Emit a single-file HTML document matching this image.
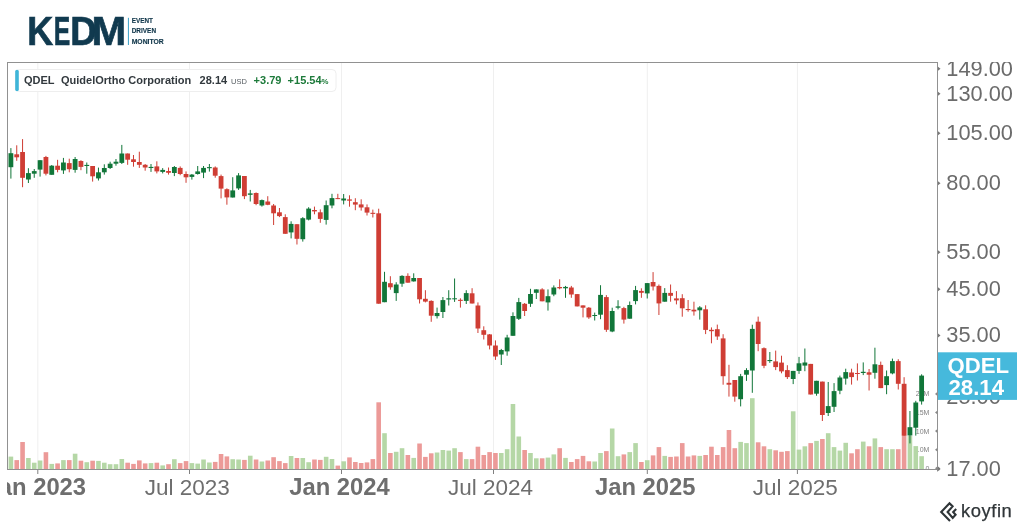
<!DOCTYPE html>
<html><head><meta charset="utf-8"><title>QDEL - KEDM</title>
<style>
html,body{margin:0;padding:0;background:#fff;}
body{width:1024px;height:529px;overflow:hidden;position:relative;font-family:"Liberation Sans",Arial,sans-serif;}
svg{position:absolute;left:0;top:0;}
.yl{font-family:"Liberation Sans",sans-serif;font-size:21.8px;fill:#6b6b6b;}
.vl{font-family:"Liberation Sans",sans-serif;font-size:7px;fill:#828282;text-anchor:end;}
.xl{font-family:"Liberation Sans",sans-serif;font-size:22.5px;fill:#6e6e6e;text-anchor:middle;}
.xl.b{font-weight:bold;font-size:23.8px;}
</style></head>
<body>
<svg width="1024" height="529" viewBox="0 0 1024 529">
<g font-family="Liberation Sans, sans-serif" font-weight="bold" fill="#113a4f" font-size="40.2" stroke="#113a4f" stroke-width="0.7">
<text transform="translate(27.2 44.9) scale(0.895 1)">K</text>
<text transform="translate(53.8 44.9) scale(0.615 1)">E</text>
<text transform="translate(70.3 44.9) scale(0.91 1)">D</text>
<text transform="translate(91.5 44.9) scale(1.035 1)">M</text>
</g>
<rect x="127.9" y="17.8" width="1.1" height="27.2" fill="#4aa9cc"/>
<g font-family="Liberation Sans, sans-serif" font-weight="bold" fill="#0f3549" font-size="7.7" stroke="#0f3549" stroke-width="0.15">
<text x="131.7" y="23.3" textLength="21.2" lengthAdjust="spacingAndGlyphs">EVENT</text>
<text x="131.7" y="33.0" textLength="24.4" lengthAdjust="spacingAndGlyphs">DRIVEN</text>
<text x="131.7" y="43.5" textLength="32" lengthAdjust="spacingAndGlyphs">MONITOR</text>
</g>
<defs><clipPath id="cp"><rect x="7.5" y="62.5" width="930" height="406.5"/></clipPath>
<clipPath id="cpy"><rect x="937" y="62" width="87" height="467"/></clipPath><clipPath id="cpx"><rect x="7" y="470" width="1017" height="40"/></clipPath></defs>
<g clip-path="url(#cp)">
<line x1="37.8" y1="62" x2="37.8" y2="469" stroke="#efefef" stroke-width="1"/><line x1="189.5" y1="62" x2="189.5" y2="469" stroke="#efefef" stroke-width="1"/><line x1="341.5" y1="62" x2="341.5" y2="469" stroke="#efefef" stroke-width="1"/><line x1="493.5" y1="62" x2="493.5" y2="469" stroke="#efefef" stroke-width="1"/><line x1="647.3" y1="62" x2="647.3" y2="469" stroke="#efefef" stroke-width="1"/><line x1="797.4" y1="62" x2="797.4" y2="469" stroke="#efefef" stroke-width="1"/>
<text x="929.4" y="396.4" class="vl">20M</text><text x="929.4" y="415.0" class="vl">15M</text><text x="929.4" y="433.6" class="vl">10M</text><text x="929.4" y="452.2" class="vl">5.0M</text><text x="929.4" y="470.8" class="vl">0</text>
<rect x="2.75" y="464.8" width="4.6" height="4.2" fill="#ec9a98"/><rect x="8.59" y="456.6" width="4.6" height="12.4" fill="#b5d7a6"/><rect x="14.43" y="460.1" width="4.6" height="8.9" fill="#ec9a98"/><rect x="20.26" y="442.0" width="4.6" height="27.0" fill="#ec9a98"/><rect x="26.10" y="458.0" width="4.6" height="11.0" fill="#b5d7a6"/><rect x="31.94" y="462.7" width="4.6" height="6.3" fill="#b5d7a6"/><rect x="37.78" y="460.5" width="4.6" height="8.5" fill="#b5d7a6"/><rect x="43.62" y="452.2" width="4.6" height="16.8" fill="#ec9a98"/><rect x="49.45" y="463.9" width="4.6" height="5.1" fill="#b5d7a6"/><rect x="55.29" y="463.4" width="4.6" height="5.6" fill="#ec9a98"/><rect x="61.13" y="460.1" width="4.6" height="8.9" fill="#b5d7a6"/><rect x="66.97" y="460.1" width="4.6" height="8.9" fill="#ec9a98"/><rect x="72.81" y="453.7" width="4.6" height="15.3" fill="#b5d7a6"/><rect x="78.64" y="460.7" width="4.6" height="8.3" fill="#ec9a98"/><rect x="84.48" y="462.2" width="4.6" height="6.8" fill="#b5d7a6"/><rect x="90.32" y="460.7" width="4.6" height="8.3" fill="#ec9a98"/><rect x="96.16" y="460.9" width="4.6" height="8.1" fill="#b5d7a6"/><rect x="102.00" y="462.7" width="4.6" height="6.3" fill="#b5d7a6"/><rect x="107.83" y="464.2" width="4.6" height="4.8" fill="#b5d7a6"/><rect x="113.67" y="464.2" width="4.6" height="4.8" fill="#b5d7a6"/><rect x="119.51" y="459.0" width="4.6" height="10.0" fill="#b5d7a6"/><rect x="125.35" y="462.7" width="4.6" height="6.3" fill="#ec9a98"/><rect x="131.19" y="463.9" width="4.6" height="5.1" fill="#ec9a98"/><rect x="137.02" y="460.4" width="4.6" height="8.6" fill="#ec9a98"/><rect x="142.86" y="463.4" width="4.6" height="5.6" fill="#ec9a98"/><rect x="148.70" y="463.1" width="4.6" height="5.9" fill="#b5d7a6"/><rect x="154.54" y="462.7" width="4.6" height="6.3" fill="#ec9a98"/><rect x="160.38" y="465.4" width="4.6" height="3.6" fill="#b5d7a6"/><rect x="166.21" y="464.2" width="4.6" height="4.8" fill="#ec9a98"/><rect x="172.05" y="459.2" width="4.6" height="9.8" fill="#b5d7a6"/><rect x="177.89" y="463.1" width="4.6" height="5.9" fill="#ec9a98"/><rect x="183.73" y="461.1" width="4.6" height="7.9" fill="#ec9a98"/><rect x="189.57" y="463.1" width="4.6" height="5.9" fill="#b5d7a6"/><rect x="195.40" y="463.6" width="4.6" height="5.4" fill="#b5d7a6"/><rect x="201.24" y="459.5" width="4.6" height="9.5" fill="#b5d7a6"/><rect x="207.08" y="462.5" width="4.6" height="6.5" fill="#b5d7a6"/><rect x="212.92" y="461.9" width="4.6" height="7.1" fill="#ec9a98"/><rect x="218.76" y="454.0" width="4.6" height="15.0" fill="#ec9a98"/><rect x="224.59" y="456.4" width="4.6" height="12.6" fill="#ec9a98"/><rect x="230.43" y="459.2" width="4.6" height="9.8" fill="#b5d7a6"/><rect x="236.27" y="459.5" width="4.6" height="9.5" fill="#b5d7a6"/><rect x="242.11" y="459.9" width="4.6" height="9.1" fill="#ec9a98"/><rect x="247.95" y="455.7" width="4.6" height="13.3" fill="#b5d7a6"/><rect x="253.78" y="459.5" width="4.6" height="9.5" fill="#ec9a98"/><rect x="259.62" y="461.5" width="4.6" height="7.5" fill="#b5d7a6"/><rect x="265.46" y="460.5" width="4.6" height="8.5" fill="#ec9a98"/><rect x="271.30" y="457.2" width="4.6" height="11.8" fill="#ec9a98"/><rect x="277.14" y="461.1" width="4.6" height="7.9" fill="#ec9a98"/><rect x="282.97" y="463.1" width="4.6" height="5.9" fill="#ec9a98"/><rect x="288.81" y="456.0" width="4.6" height="13.0" fill="#b5d7a6"/><rect x="294.65" y="458.0" width="4.6" height="11.0" fill="#ec9a98"/><rect x="300.49" y="458.0" width="4.6" height="11.0" fill="#b5d7a6"/><rect x="306.33" y="462.2" width="4.6" height="6.8" fill="#b5d7a6"/><rect x="312.16" y="459.5" width="4.6" height="9.5" fill="#ec9a98"/><rect x="318.00" y="459.9" width="4.6" height="9.1" fill="#ec9a98"/><rect x="323.84" y="456.8" width="4.6" height="12.2" fill="#b5d7a6"/><rect x="329.68" y="459.0" width="4.6" height="10.0" fill="#b5d7a6"/><rect x="335.52" y="465.6" width="4.6" height="3.4" fill="#ec9a98"/><rect x="341.35" y="461.3" width="4.6" height="7.7" fill="#b5d7a6"/><rect x="347.19" y="457.4" width="4.6" height="11.6" fill="#ec9a98"/><rect x="353.03" y="462.0" width="4.6" height="7.0" fill="#ec9a98"/><rect x="358.87" y="463.0" width="4.6" height="6.0" fill="#ec9a98"/><rect x="364.71" y="462.4" width="4.6" height="6.6" fill="#ec9a98"/><rect x="370.54" y="459.1" width="4.6" height="9.9" fill="#ec9a98"/><rect x="376.38" y="402.3" width="4.6" height="66.7" fill="#ec9a98"/><rect x="382.22" y="433.2" width="4.6" height="35.8" fill="#b5d7a6"/><rect x="388.06" y="453.0" width="4.6" height="16.0" fill="#ec9a98"/><rect x="393.90" y="451.8" width="4.6" height="17.2" fill="#b5d7a6"/><rect x="399.73" y="448.2" width="4.6" height="20.8" fill="#b5d7a6"/><rect x="405.57" y="455.0" width="4.6" height="14.0" fill="#ec9a98"/><rect x="411.41" y="457.9" width="4.6" height="11.1" fill="#b5d7a6"/><rect x="417.25" y="443.5" width="4.6" height="25.5" fill="#ec9a98"/><rect x="423.09" y="456.9" width="4.6" height="12.1" fill="#ec9a98"/><rect x="428.92" y="453.3" width="4.6" height="15.7" fill="#ec9a98"/><rect x="434.76" y="452.5" width="4.6" height="16.5" fill="#b5d7a6"/><rect x="440.60" y="450.0" width="4.6" height="19.0" fill="#b5d7a6"/><rect x="446.44" y="450.6" width="4.6" height="18.4" fill="#b5d7a6"/><rect x="452.28" y="448.2" width="4.6" height="20.8" fill="#b5d7a6"/><rect x="458.11" y="452.1" width="4.6" height="16.9" fill="#ec9a98"/><rect x="463.95" y="459.1" width="4.6" height="9.9" fill="#b5d7a6"/><rect x="469.79" y="459.1" width="4.6" height="9.9" fill="#ec9a98"/><rect x="475.63" y="446.7" width="4.6" height="22.3" fill="#ec9a98"/><rect x="481.47" y="455.0" width="4.6" height="14.0" fill="#ec9a98"/><rect x="487.30" y="452.1" width="4.6" height="16.9" fill="#ec9a98"/><rect x="493.14" y="453.0" width="4.6" height="16.0" fill="#ec9a98"/><rect x="498.98" y="453.0" width="4.6" height="16.0" fill="#b5d7a6"/><rect x="504.82" y="449.2" width="4.6" height="19.8" fill="#b5d7a6"/><rect x="510.66" y="404.0" width="4.6" height="65.0" fill="#b5d7a6"/><rect x="516.49" y="436.5" width="4.6" height="32.5" fill="#b5d7a6"/><rect x="522.33" y="450.0" width="4.6" height="19.0" fill="#ec9a98"/><rect x="528.17" y="453.0" width="4.6" height="16.0" fill="#b5d7a6"/><rect x="534.01" y="458.3" width="4.6" height="10.7" fill="#b5d7a6"/><rect x="539.85" y="458.3" width="4.6" height="10.7" fill="#ec9a98"/><rect x="545.68" y="457.6" width="4.6" height="11.4" fill="#b5d7a6"/><rect x="551.52" y="454.4" width="4.6" height="14.6" fill="#b5d7a6"/><rect x="557.36" y="448.2" width="4.6" height="20.8" fill="#ec9a98"/><rect x="563.20" y="457.9" width="4.6" height="11.1" fill="#b5d7a6"/><rect x="569.04" y="462.0" width="4.6" height="7.0" fill="#ec9a98"/><rect x="574.87" y="459.1" width="4.6" height="9.9" fill="#ec9a98"/><rect x="580.71" y="455.9" width="4.6" height="13.1" fill="#ec9a98"/><rect x="586.55" y="461.3" width="4.6" height="7.7" fill="#ec9a98"/><rect x="592.39" y="461.5" width="4.6" height="7.5" fill="#b5d7a6"/><rect x="598.23" y="453.0" width="4.6" height="16.0" fill="#b5d7a6"/><rect x="604.06" y="451.1" width="4.6" height="17.9" fill="#ec9a98"/><rect x="609.90" y="428.5" width="4.6" height="40.5" fill="#b5d7a6"/><rect x="615.74" y="456.2" width="4.6" height="12.8" fill="#b5d7a6"/><rect x="621.58" y="454.4" width="4.6" height="14.6" fill="#ec9a98"/><rect x="627.42" y="452.1" width="4.6" height="16.9" fill="#b5d7a6"/><rect x="633.25" y="443.1" width="4.6" height="25.9" fill="#b5d7a6"/><rect x="639.09" y="462.0" width="4.6" height="7.0" fill="#ec9a98"/><rect x="644.93" y="460.2" width="4.6" height="8.8" fill="#b5d7a6"/><rect x="650.77" y="455.4" width="4.6" height="13.6" fill="#ec9a98"/><rect x="656.61" y="447.1" width="4.6" height="21.9" fill="#ec9a98"/><rect x="662.44" y="455.9" width="4.6" height="13.1" fill="#b5d7a6"/><rect x="668.28" y="456.9" width="4.6" height="12.1" fill="#ec9a98"/><rect x="674.12" y="456.5" width="4.6" height="12.5" fill="#ec9a98"/><rect x="679.96" y="443.1" width="4.6" height="25.9" fill="#ec9a98"/><rect x="685.80" y="456.5" width="4.6" height="12.5" fill="#ec9a98"/><rect x="691.63" y="455.4" width="4.6" height="13.6" fill="#ec9a98"/><rect x="697.47" y="455.9" width="4.6" height="13.1" fill="#b5d7a6"/><rect x="703.31" y="455.0" width="4.6" height="14.0" fill="#ec9a98"/><rect x="709.15" y="446.7" width="4.6" height="22.3" fill="#ec9a98"/><rect x="714.99" y="455.0" width="4.6" height="14.0" fill="#ec9a98"/><rect x="720.82" y="447.1" width="4.6" height="21.9" fill="#ec9a98"/><rect x="726.66" y="430.0" width="4.6" height="39.0" fill="#ec9a98"/><rect x="732.50" y="448.2" width="4.6" height="20.8" fill="#ec9a98"/><rect x="738.34" y="441.9" width="4.6" height="27.1" fill="#b5d7a6"/><rect x="744.18" y="443.1" width="4.6" height="25.9" fill="#b5d7a6"/><rect x="750.01" y="398.2" width="4.6" height="70.8" fill="#b5d7a6"/><rect x="755.85" y="442.3" width="4.6" height="26.7" fill="#ec9a98"/><rect x="761.69" y="446.3" width="4.6" height="22.7" fill="#ec9a98"/><rect x="767.53" y="449.2" width="4.6" height="19.8" fill="#b5d7a6"/><rect x="773.37" y="450.3" width="4.6" height="18.7" fill="#ec9a98"/><rect x="779.20" y="451.8" width="4.6" height="17.2" fill="#ec9a98"/><rect x="785.04" y="451.1" width="4.6" height="17.9" fill="#ec9a98"/><rect x="790.88" y="411.3" width="4.6" height="57.7" fill="#b5d7a6"/><rect x="796.72" y="449.6" width="4.6" height="19.4" fill="#b5d7a6"/><rect x="802.56" y="446.3" width="4.6" height="22.7" fill="#b5d7a6"/><rect x="808.39" y="443.1" width="4.6" height="25.9" fill="#ec9a98"/><rect x="814.23" y="440.9" width="4.6" height="28.1" fill="#b5d7a6"/><rect x="820.07" y="439.0" width="4.6" height="30.0" fill="#ec9a98"/><rect x="825.91" y="433.2" width="4.6" height="35.8" fill="#b5d7a6"/><rect x="831.75" y="447.1" width="4.6" height="21.9" fill="#b5d7a6"/><rect x="837.58" y="450.6" width="4.6" height="18.4" fill="#b5d7a6"/><rect x="843.42" y="442.8" width="4.6" height="26.2" fill="#b5d7a6"/><rect x="849.26" y="453.3" width="4.6" height="15.7" fill="#ec9a98"/><rect x="855.10" y="449.2" width="4.6" height="19.8" fill="#ec9a98"/><rect x="860.94" y="441.6" width="4.6" height="27.4" fill="#b5d7a6"/><rect x="866.77" y="446.3" width="4.6" height="22.7" fill="#ec9a98"/><rect x="872.61" y="438.4" width="4.6" height="30.6" fill="#b5d7a6"/><rect x="878.45" y="447.1" width="4.6" height="21.9" fill="#ec9a98"/><rect x="884.29" y="449.2" width="4.6" height="19.8" fill="#b5d7a6"/><rect x="890.13" y="449.2" width="4.6" height="19.8" fill="#b5d7a6"/><rect x="895.96" y="449.2" width="4.6" height="19.8" fill="#ec9a98"/><rect x="901.80" y="436.0" width="4.6" height="33.0" fill="#ec9a98"/><rect x="907.64" y="436.0" width="4.6" height="33.0" fill="#b5d7a6"/><rect x="913.48" y="446.1" width="4.6" height="22.9" fill="#b5d7a6"/><rect x="919.32" y="456.2" width="4.6" height="12.8" fill="#b5d7a6"/>
<rect x="4.55" y="160.0" width="1" height="10.0" fill="#cf3d34"/><rect x="2.65" y="162.0" width="4.8" height="5.0" fill="#cf3d34"/><rect x="10.39" y="148.1" width="1" height="30.5" fill="#117639"/><rect x="8.49" y="153.2" width="4.8" height="14.0" fill="#117639"/><rect x="16.23" y="145.3" width="1" height="15.5" fill="#cf3d34"/><rect x="14.33" y="154.3" width="4.8" height="3.0" fill="#cf3d34"/><rect x="22.06" y="139.1" width="1" height="48.1" fill="#cf3d34"/><rect x="20.16" y="152.0" width="4.8" height="25.8" fill="#cf3d34"/><rect x="27.90" y="168.2" width="1" height="14.8" fill="#117639"/><rect x="26.00" y="173.1" width="4.8" height="6.4" fill="#117639"/><rect x="33.74" y="169.0" width="1" height="8.8" fill="#117639"/><rect x="31.84" y="171.1" width="4.8" height="2.6" fill="#117639"/><rect x="39.58" y="160.2" width="1" height="16.4" fill="#117639"/><rect x="37.68" y="160.2" width="4.8" height="9.4" fill="#117639"/><rect x="45.42" y="155.9" width="1" height="19.5" fill="#cf3d34"/><rect x="43.52" y="157.0" width="4.8" height="16.7" fill="#cf3d34"/><rect x="51.25" y="165.0" width="1" height="9.8" fill="#117639"/><rect x="49.35" y="165.7" width="4.8" height="9.1" fill="#117639"/><rect x="57.09" y="159.8" width="1" height="12.5" fill="#cf3d34"/><rect x="55.19" y="165.7" width="4.8" height="4.2" fill="#cf3d34"/><rect x="62.93" y="157.9" width="1" height="16.0" fill="#117639"/><rect x="61.03" y="162.5" width="4.8" height="7.9" fill="#117639"/><rect x="68.77" y="158.7" width="1" height="13.6" fill="#cf3d34"/><rect x="66.87" y="163.1" width="4.8" height="6.1" fill="#cf3d34"/><rect x="74.61" y="157.0" width="1" height="15.7" fill="#117639"/><rect x="72.71" y="159.0" width="4.8" height="10.9" fill="#117639"/><rect x="80.44" y="160.2" width="1" height="10.0" fill="#cf3d34"/><rect x="78.54" y="161.0" width="4.8" height="5.9" fill="#cf3d34"/><rect x="86.28" y="162.5" width="1" height="11.2" fill="#117639"/><rect x="84.38" y="164.9" width="4.8" height="1.1" fill="#117639"/><rect x="92.12" y="166.0" width="1" height="15.6" fill="#cf3d34"/><rect x="90.22" y="166.0" width="4.8" height="10.3" fill="#cf3d34"/><rect x="97.96" y="167.6" width="1" height="12.9" fill="#117639"/><rect x="96.06" y="172.3" width="4.8" height="6.1" fill="#117639"/><rect x="103.80" y="164.3" width="1" height="10.3" fill="#117639"/><rect x="101.90" y="168.0" width="4.8" height="4.3" fill="#117639"/><rect x="109.63" y="161.7" width="1" height="7.3" fill="#117639"/><rect x="107.73" y="163.7" width="4.8" height="4.3" fill="#117639"/><rect x="115.47" y="159.0" width="1" height="6.7" fill="#117639"/><rect x="113.57" y="161.7" width="4.8" height="2.0" fill="#117639"/><rect x="121.31" y="144.9" width="1" height="19.1" fill="#117639"/><rect x="119.41" y="153.5" width="4.8" height="9.4" fill="#117639"/><rect x="127.15" y="153.5" width="1" height="11.3" fill="#cf3d34"/><rect x="125.25" y="153.5" width="4.8" height="6.2" fill="#cf3d34"/><rect x="132.99" y="155.0" width="1" height="11.7" fill="#cf3d34"/><rect x="131.09" y="159.3" width="4.8" height="2.7" fill="#cf3d34"/><rect x="138.82" y="151.7" width="1" height="16.2" fill="#cf3d34"/><rect x="136.92" y="162.0" width="4.8" height="2.8" fill="#cf3d34"/><rect x="144.66" y="164.0" width="1" height="6.7" fill="#cf3d34"/><rect x="142.76" y="164.8" width="4.8" height="2.7" fill="#cf3d34"/><rect x="150.50" y="164.0" width="1" height="7.9" fill="#117639"/><rect x="148.60" y="166.9" width="4.8" height="1.1" fill="#117639"/><rect x="156.34" y="161.3" width="1" height="12.1" fill="#cf3d34"/><rect x="154.44" y="166.4" width="4.8" height="5.0" fill="#cf3d34"/><rect x="162.18" y="168.1" width="1" height="5.3" fill="#117639"/><rect x="160.28" y="169.9" width="4.8" height="2.0" fill="#117639"/><rect x="168.01" y="167.5" width="1" height="7.1" fill="#cf3d34"/><rect x="166.11" y="171.0" width="4.8" height="1.8" fill="#cf3d34"/><rect x="173.85" y="166.0" width="1" height="10.1" fill="#117639"/><rect x="171.95" y="167.0" width="4.8" height="6.0" fill="#117639"/><rect x="179.69" y="166.4" width="1" height="8.8" fill="#cf3d34"/><rect x="177.79" y="167.9" width="4.8" height="6.1" fill="#cf3d34"/><rect x="185.53" y="171.4" width="1" height="11.4" fill="#cf3d34"/><rect x="183.63" y="174.0" width="4.8" height="3.3" fill="#cf3d34"/><rect x="191.37" y="174.0" width="1" height="5.6" fill="#117639"/><rect x="189.47" y="174.6" width="4.8" height="2.3" fill="#117639"/><rect x="197.20" y="166.0" width="1" height="8.6" fill="#117639"/><rect x="195.30" y="171.4" width="4.8" height="2.6" fill="#117639"/><rect x="203.04" y="166.0" width="1" height="12.1" fill="#117639"/><rect x="201.14" y="167.9" width="4.8" height="4.7" fill="#117639"/><rect x="208.88" y="164.0" width="1" height="7.6" fill="#117639"/><rect x="206.98" y="167.1" width="4.8" height="1.1" fill="#117639"/><rect x="214.72" y="166.4" width="1" height="11.3" fill="#cf3d34"/><rect x="212.82" y="167.5" width="4.8" height="8.2" fill="#cf3d34"/><rect x="220.56" y="174.6" width="1" height="23.8" fill="#cf3d34"/><rect x="218.66" y="176.1" width="4.8" height="12.5" fill="#cf3d34"/><rect x="226.39" y="188.3" width="1" height="16.4" fill="#cf3d34"/><rect x="224.49" y="189.2" width="4.8" height="8.2" fill="#cf3d34"/><rect x="232.23" y="177.2" width="1" height="20.3" fill="#117639"/><rect x="230.33" y="190.4" width="4.8" height="7.1" fill="#117639"/><rect x="238.07" y="173.1" width="1" height="16.8" fill="#117639"/><rect x="236.17" y="175.4" width="4.8" height="13.0" fill="#117639"/><rect x="243.91" y="176.0" width="1" height="23.1" fill="#cf3d34"/><rect x="242.01" y="176.0" width="4.8" height="20.2" fill="#cf3d34"/><rect x="249.75" y="189.9" width="1" height="11.6" fill="#117639"/><rect x="247.85" y="193.4" width="4.8" height="1.4" fill="#117639"/><rect x="255.58" y="192.4" width="1" height="12.8" fill="#cf3d34"/><rect x="253.68" y="193.0" width="4.8" height="11.0" fill="#cf3d34"/><rect x="261.42" y="199.5" width="1" height="7.1" fill="#117639"/><rect x="259.52" y="200.1" width="4.8" height="5.4" fill="#117639"/><rect x="267.26" y="196.2" width="1" height="9.0" fill="#cf3d34"/><rect x="265.36" y="201.5" width="4.8" height="3.3" fill="#cf3d34"/><rect x="273.10" y="204.0" width="1" height="21.0" fill="#cf3d34"/><rect x="271.20" y="205.5" width="4.8" height="7.8" fill="#cf3d34"/><rect x="278.94" y="208.0" width="1" height="9.1" fill="#cf3d34"/><rect x="277.04" y="212.3" width="4.8" height="3.8" fill="#cf3d34"/><rect x="284.77" y="214.3" width="1" height="19.5" fill="#cf3d34"/><rect x="282.87" y="217.1" width="4.8" height="16.7" fill="#cf3d34"/><rect x="290.61" y="221.3" width="1" height="17.1" fill="#117639"/><rect x="288.71" y="223.9" width="4.8" height="8.5" fill="#117639"/><rect x="296.45" y="224.2" width="1" height="20.3" fill="#cf3d34"/><rect x="294.55" y="224.2" width="4.8" height="14.6" fill="#cf3d34"/><rect x="302.29" y="217.1" width="1" height="24.5" fill="#117639"/><rect x="300.39" y="218.2" width="4.8" height="21.0" fill="#117639"/><rect x="308.13" y="207.2" width="1" height="13.2" fill="#117639"/><rect x="306.23" y="208.6" width="4.8" height="11.0" fill="#117639"/><rect x="313.96" y="206.6" width="1" height="7.7" fill="#cf3d34"/><rect x="312.06" y="210.0" width="4.8" height="1.4" fill="#cf3d34"/><rect x="319.80" y="209.4" width="1" height="13.4" fill="#cf3d34"/><rect x="317.90" y="212.3" width="4.8" height="6.6" fill="#cf3d34"/><rect x="325.64" y="200.5" width="1" height="24.1" fill="#117639"/><rect x="323.74" y="205.2" width="4.8" height="14.7" fill="#117639"/><rect x="331.48" y="193.8" width="1" height="14.5" fill="#117639"/><rect x="329.58" y="198.1" width="4.8" height="7.4" fill="#117639"/><rect x="337.32" y="193.8" width="1" height="5.3" fill="#cf3d34"/><rect x="335.42" y="198.1" width="4.8" height="1.0" fill="#cf3d34"/><rect x="343.15" y="194.0" width="1" height="10.4" fill="#117639"/><rect x="341.25" y="198.5" width="4.8" height="2.0" fill="#117639"/><rect x="348.99" y="195.3" width="1" height="11.4" fill="#cf3d34"/><rect x="347.09" y="199.4" width="4.8" height="1.3" fill="#cf3d34"/><rect x="354.83" y="198.2" width="1" height="12.0" fill="#cf3d34"/><rect x="352.93" y="202.2" width="4.8" height="2.4" fill="#cf3d34"/><rect x="360.67" y="199.3" width="1" height="11.3" fill="#cf3d34"/><rect x="358.77" y="204.4" width="4.8" height="3.1" fill="#cf3d34"/><rect x="366.51" y="204.4" width="1" height="11.1" fill="#cf3d34"/><rect x="364.61" y="207.3" width="4.8" height="5.3" fill="#cf3d34"/><rect x="372.34" y="209.6" width="1" height="7.9" fill="#cf3d34"/><rect x="370.44" y="212.8" width="4.8" height="1.1" fill="#cf3d34"/><rect x="378.18" y="208.7" width="1" height="95.0" fill="#cf3d34"/><rect x="376.28" y="213.3" width="4.8" height="90.4" fill="#cf3d34"/><rect x="384.02" y="271.8" width="1" height="30.4" fill="#117639"/><rect x="382.12" y="281.8" width="4.8" height="20.4" fill="#117639"/><rect x="389.86" y="276.2" width="1" height="13.5" fill="#cf3d34"/><rect x="387.96" y="283.2" width="4.8" height="4.1" fill="#cf3d34"/><rect x="395.70" y="282.2" width="1" height="18.7" fill="#117639"/><rect x="393.80" y="284.5" width="4.8" height="8.6" fill="#117639"/><rect x="401.53" y="275.2" width="1" height="11.6" fill="#117639"/><rect x="399.63" y="275.9" width="4.8" height="7.8" fill="#117639"/><rect x="407.37" y="273.3" width="1" height="9.4" fill="#cf3d34"/><rect x="405.47" y="275.9" width="4.8" height="6.8" fill="#cf3d34"/><rect x="413.21" y="273.3" width="1" height="8.3" fill="#117639"/><rect x="411.31" y="278.0" width="4.8" height="3.4" fill="#117639"/><rect x="419.05" y="278.0" width="1" height="25.5" fill="#cf3d34"/><rect x="417.15" y="278.0" width="4.8" height="21.3" fill="#cf3d34"/><rect x="424.89" y="290.2" width="1" height="12.2" fill="#cf3d34"/><rect x="422.99" y="298.8" width="4.8" height="2.8" fill="#cf3d34"/><rect x="430.72" y="300.3" width="1" height="21.5" fill="#cf3d34"/><rect x="428.82" y="300.9" width="4.8" height="14.8" fill="#cf3d34"/><rect x="436.56" y="307.6" width="1" height="10.9" fill="#117639"/><rect x="434.66" y="313.0" width="4.8" height="3.1" fill="#117639"/><rect x="442.40" y="297.0" width="1" height="21.0" fill="#117639"/><rect x="440.50" y="300.1" width="4.8" height="11.9" fill="#117639"/><rect x="448.24" y="290.2" width="1" height="15.3" fill="#117639"/><rect x="446.34" y="298.3" width="4.8" height="1.2" fill="#117639"/><rect x="454.08" y="278.5" width="1" height="23.4" fill="#117639"/><rect x="452.18" y="298.3" width="4.8" height="1.0" fill="#117639"/><rect x="459.91" y="298.3" width="1" height="9.3" fill="#cf3d34"/><rect x="458.01" y="299.8" width="4.8" height="1.1" fill="#cf3d34"/><rect x="465.75" y="290.2" width="1" height="13.8" fill="#117639"/><rect x="463.85" y="293.1" width="4.8" height="7.8" fill="#117639"/><rect x="471.59" y="288.2" width="1" height="15.3" fill="#cf3d34"/><rect x="469.69" y="293.3" width="4.8" height="10.2" fill="#cf3d34"/><rect x="477.43" y="302.4" width="1" height="30.6" fill="#cf3d34"/><rect x="475.53" y="305.5" width="4.8" height="23.0" fill="#cf3d34"/><rect x="483.27" y="326.3" width="1" height="13.2" fill="#cf3d34"/><rect x="481.37" y="330.2" width="4.8" height="4.6" fill="#cf3d34"/><rect x="489.10" y="334.0" width="1" height="15.4" fill="#cf3d34"/><rect x="487.20" y="334.4" width="4.8" height="11.1" fill="#cf3d34"/><rect x="494.94" y="340.4" width="1" height="19.5" fill="#cf3d34"/><rect x="493.04" y="345.5" width="4.8" height="11.0" fill="#cf3d34"/><rect x="500.78" y="348.9" width="1" height="16.1" fill="#117639"/><rect x="498.88" y="350.0" width="4.8" height="4.5" fill="#117639"/><rect x="506.62" y="334.8" width="1" height="20.9" fill="#117639"/><rect x="504.72" y="337.5" width="4.8" height="13.9" fill="#117639"/><rect x="512.46" y="312.3" width="1" height="23.5" fill="#117639"/><rect x="510.56" y="316.0" width="4.8" height="19.8" fill="#117639"/><rect x="518.29" y="297.9" width="1" height="22.1" fill="#117639"/><rect x="516.39" y="302.1" width="4.8" height="16.7" fill="#117639"/><rect x="524.13" y="303.0" width="1" height="13.0" fill="#cf3d34"/><rect x="522.23" y="303.8" width="4.8" height="7.2" fill="#cf3d34"/><rect x="529.97" y="288.8" width="1" height="18.1" fill="#117639"/><rect x="528.07" y="294.0" width="4.8" height="9.8" fill="#117639"/><rect x="535.81" y="289.4" width="1" height="9.6" fill="#117639"/><rect x="533.91" y="289.4" width="4.8" height="3.4" fill="#117639"/><rect x="541.65" y="288.2" width="1" height="13.1" fill="#cf3d34"/><rect x="539.75" y="289.4" width="4.8" height="11.9" fill="#cf3d34"/><rect x="547.48" y="289.4" width="1" height="21.2" fill="#117639"/><rect x="545.58" y="296.2" width="4.8" height="6.2" fill="#117639"/><rect x="553.32" y="285.4" width="1" height="10.8" fill="#117639"/><rect x="551.42" y="287.5" width="4.8" height="7.0" fill="#117639"/><rect x="559.16" y="279.3" width="1" height="10.0" fill="#cf3d34"/><rect x="557.26" y="287.0" width="4.8" height="1.3" fill="#cf3d34"/><rect x="565.00" y="285.9" width="1" height="11.9" fill="#117639"/><rect x="563.10" y="286.9" width="4.8" height="1.4" fill="#117639"/><rect x="570.84" y="285.9" width="1" height="11.9" fill="#cf3d34"/><rect x="568.94" y="287.5" width="4.8" height="7.0" fill="#cf3d34"/><rect x="576.67" y="294.1" width="1" height="12.3" fill="#cf3d34"/><rect x="574.77" y="294.1" width="4.8" height="12.3" fill="#cf3d34"/><rect x="582.51" y="305.4" width="1" height="12.0" fill="#cf3d34"/><rect x="580.61" y="305.4" width="4.8" height="2.3" fill="#cf3d34"/><rect x="588.35" y="307.0" width="1" height="11.9" fill="#cf3d34"/><rect x="586.45" y="307.7" width="4.8" height="9.7" fill="#cf3d34"/><rect x="594.19" y="312.6" width="1" height="7.9" fill="#117639"/><rect x="592.29" y="315.0" width="4.8" height="1.0" fill="#117639"/><rect x="600.03" y="285.2" width="1" height="34.0" fill="#117639"/><rect x="598.13" y="294.9" width="4.8" height="19.8" fill="#117639"/><rect x="605.86" y="295.1" width="1" height="36.8" fill="#cf3d34"/><rect x="603.96" y="297.1" width="4.8" height="32.7" fill="#cf3d34"/><rect x="611.70" y="307.7" width="1" height="24.5" fill="#117639"/><rect x="609.80" y="311.0" width="4.8" height="20.5" fill="#117639"/><rect x="617.54" y="300.2" width="1" height="9.2" fill="#117639"/><rect x="615.64" y="306.4" width="4.8" height="1.3" fill="#117639"/><rect x="623.38" y="306.8" width="1" height="16.8" fill="#cf3d34"/><rect x="621.48" y="308.1" width="4.8" height="11.5" fill="#cf3d34"/><rect x="629.22" y="301.5" width="1" height="17.2" fill="#117639"/><rect x="627.32" y="305.0" width="4.8" height="13.7" fill="#117639"/><rect x="635.05" y="285.9" width="1" height="18.5" fill="#117639"/><rect x="633.15" y="290.1" width="4.8" height="11.0" fill="#117639"/><rect x="640.89" y="288.3" width="1" height="9.5" fill="#cf3d34"/><rect x="638.99" y="290.9" width="4.8" height="1.9" fill="#cf3d34"/><rect x="646.73" y="283.1" width="1" height="15.4" fill="#117639"/><rect x="644.83" y="283.1" width="4.8" height="10.3" fill="#117639"/><rect x="652.57" y="272.1" width="1" height="18.4" fill="#cf3d34"/><rect x="650.67" y="282.0" width="4.8" height="4.5" fill="#cf3d34"/><rect x="658.41" y="284.5" width="1" height="30.5" fill="#cf3d34"/><rect x="656.51" y="285.9" width="4.8" height="17.5" fill="#cf3d34"/><rect x="664.24" y="288.1" width="1" height="13.6" fill="#117639"/><rect x="662.34" y="292.9" width="4.8" height="8.8" fill="#117639"/><rect x="670.08" y="284.5" width="1" height="17.2" fill="#cf3d34"/><rect x="668.18" y="292.9" width="4.8" height="2.9" fill="#cf3d34"/><rect x="675.92" y="291.1" width="1" height="13.3" fill="#cf3d34"/><rect x="674.02" y="298.4" width="4.8" height="2.0" fill="#cf3d34"/><rect x="681.76" y="294.2" width="1" height="22.5" fill="#cf3d34"/><rect x="679.86" y="298.2" width="4.8" height="10.1" fill="#cf3d34"/><rect x="687.60" y="300.0" width="1" height="11.7" fill="#cf3d34"/><rect x="685.70" y="309.0" width="4.8" height="1.1" fill="#cf3d34"/><rect x="693.43" y="301.7" width="1" height="13.9" fill="#cf3d34"/><rect x="691.53" y="309.7" width="4.8" height="1.7" fill="#cf3d34"/><rect x="699.27" y="306.1" width="1" height="13.5" fill="#117639"/><rect x="697.37" y="307.4" width="4.8" height="2.9" fill="#117639"/><rect x="705.11" y="305.3" width="1" height="28.8" fill="#cf3d34"/><rect x="703.21" y="309.3" width="4.8" height="20.6" fill="#cf3d34"/><rect x="710.95" y="327.4" width="1" height="15.9" fill="#cf3d34"/><rect x="709.05" y="329.8" width="4.8" height="1.4" fill="#cf3d34"/><rect x="716.79" y="324.6" width="1" height="15.3" fill="#cf3d34"/><rect x="714.89" y="329.2" width="4.8" height="7.3" fill="#cf3d34"/><rect x="722.62" y="334.2" width="1" height="50.5" fill="#cf3d34"/><rect x="720.72" y="338.4" width="4.8" height="37.8" fill="#cf3d34"/><rect x="728.46" y="364.8" width="1" height="31.8" fill="#cf3d34"/><rect x="726.56" y="382.8" width="4.8" height="1.9" fill="#cf3d34"/><rect x="734.30" y="380.0" width="1" height="21.7" fill="#cf3d34"/><rect x="732.40" y="380.0" width="4.8" height="16.6" fill="#cf3d34"/><rect x="740.14" y="373.9" width="1" height="32.5" fill="#117639"/><rect x="738.24" y="376.2" width="4.8" height="23.0" fill="#117639"/><rect x="745.98" y="368.2" width="1" height="12.7" fill="#117639"/><rect x="744.08" y="370.1" width="4.8" height="4.6" fill="#117639"/><rect x="751.81" y="324.7" width="1" height="68.1" fill="#117639"/><rect x="749.91" y="328.9" width="4.8" height="41.6" fill="#117639"/><rect x="757.65" y="316.6" width="1" height="34.6" fill="#cf3d34"/><rect x="755.75" y="321.7" width="4.8" height="22.3" fill="#cf3d34"/><rect x="763.49" y="347.4" width="1" height="20.8" fill="#cf3d34"/><rect x="761.59" y="348.2" width="4.8" height="17.6" fill="#cf3d34"/><rect x="769.33" y="352.0" width="1" height="10.9" fill="#117639"/><rect x="767.43" y="360.0" width="4.8" height="1.1" fill="#117639"/><rect x="775.17" y="350.6" width="1" height="19.5" fill="#cf3d34"/><rect x="773.27" y="361.4" width="4.8" height="5.7" fill="#cf3d34"/><rect x="781.00" y="355.7" width="1" height="17.6" fill="#cf3d34"/><rect x="779.10" y="362.6" width="4.8" height="8.8" fill="#cf3d34"/><rect x="786.84" y="365.2" width="1" height="13.8" fill="#cf3d34"/><rect x="784.94" y="370.1" width="4.8" height="7.0" fill="#cf3d34"/><rect x="792.68" y="370.9" width="1" height="13.2" fill="#117639"/><rect x="790.78" y="370.9" width="4.8" height="8.1" fill="#117639"/><rect x="798.52" y="356.9" width="1" height="17.0" fill="#117639"/><rect x="796.62" y="363.3" width="4.8" height="7.6" fill="#117639"/><rect x="804.36" y="348.5" width="1" height="22.7" fill="#117639"/><rect x="802.46" y="362.5" width="4.8" height="3.1" fill="#117639"/><rect x="810.19" y="363.9" width="1" height="30.6" fill="#cf3d34"/><rect x="808.29" y="363.9" width="4.8" height="30.6" fill="#cf3d34"/><rect x="816.03" y="380.8" width="1" height="14.9" fill="#117639"/><rect x="814.13" y="380.8" width="4.8" height="12.9" fill="#117639"/><rect x="821.87" y="381.6" width="1" height="39.4" fill="#cf3d34"/><rect x="819.97" y="381.6" width="4.8" height="33.4" fill="#cf3d34"/><rect x="827.71" y="382.0" width="1" height="34.0" fill="#117639"/><rect x="825.81" y="406.1" width="4.8" height="6.9" fill="#117639"/><rect x="833.55" y="383.1" width="1" height="28.9" fill="#117639"/><rect x="831.65" y="391.1" width="4.8" height="15.7" fill="#117639"/><rect x="839.38" y="375.6" width="1" height="18.6" fill="#117639"/><rect x="837.48" y="377.5" width="4.8" height="13.2" fill="#117639"/><rect x="845.22" y="368.7" width="1" height="15.9" fill="#117639"/><rect x="843.32" y="372.1" width="4.8" height="6.5" fill="#117639"/><rect x="851.06" y="368.7" width="1" height="15.9" fill="#cf3d34"/><rect x="849.16" y="372.5" width="4.8" height="4.6" fill="#cf3d34"/><rect x="856.90" y="363.4" width="1" height="17.1" fill="#cf3d34"/><rect x="855.00" y="373.0" width="4.8" height="1.0" fill="#cf3d34"/><rect x="862.74" y="362.4" width="1" height="12.7" fill="#117639"/><rect x="860.84" y="371.8" width="4.8" height="1.2" fill="#117639"/><rect x="868.57" y="369.0" width="1" height="21.5" fill="#cf3d34"/><rect x="866.67" y="372.3" width="4.8" height="2.4" fill="#cf3d34"/><rect x="874.41" y="347.7" width="1" height="31.0" fill="#117639"/><rect x="872.51" y="364.3" width="4.8" height="8.5" fill="#117639"/><rect x="880.25" y="361.6" width="1" height="26.5" fill="#cf3d34"/><rect x="878.35" y="364.9" width="4.8" height="23.2" fill="#cf3d34"/><rect x="886.09" y="370.5" width="1" height="23.7" fill="#117639"/><rect x="884.19" y="376.2" width="4.8" height="8.9" fill="#117639"/><rect x="891.93" y="358.6" width="1" height="15.7" fill="#117639"/><rect x="890.03" y="361.1" width="4.8" height="12.3" fill="#117639"/><rect x="897.76" y="359.2" width="1" height="30.3" fill="#cf3d34"/><rect x="895.86" y="361.1" width="4.8" height="22.7" fill="#cf3d34"/><rect x="903.60" y="377.2" width="1" height="58.6" fill="#cf3d34"/><rect x="901.70" y="383.8" width="4.8" height="52.0" fill="#cf3d34"/><rect x="909.44" y="411.0" width="1" height="32.4" fill="#117639"/><rect x="907.54" y="427.2" width="4.8" height="8.3" fill="#117639"/><rect x="915.28" y="400.8" width="1" height="34.8" fill="#117639"/><rect x="913.38" y="402.5" width="4.8" height="25.2" fill="#117639"/><rect x="921.12" y="374.3" width="1" height="30.3" fill="#117639"/><rect x="919.22" y="375.6" width="4.8" height="25.8" fill="#117639"/>
</g>
<rect x="7.5" y="62.5" width="930" height="407" fill="none" stroke="#919191" stroke-width="1"/>
<path d="M937 467.3 L940.5 469.5 L937 471.7 Z" fill="#888"/>
<line x1="37.8" y1="470" x2="37.8" y2="474" stroke="#808080" stroke-width="1"/><line x1="189.5" y1="470" x2="189.5" y2="474" stroke="#808080" stroke-width="1"/><line x1="341.5" y1="470" x2="341.5" y2="474" stroke="#808080" stroke-width="1"/><line x1="493.5" y1="470" x2="493.5" y2="474" stroke="#808080" stroke-width="1"/><line x1="647.3" y1="470" x2="647.3" y2="474" stroke="#808080" stroke-width="1"/><line x1="797.4" y1="470" x2="797.4" y2="474" stroke="#808080" stroke-width="1"/>
<g clip-path="url(#cpy)"><path d="M938 66.7 L940.5 68.7 L938 70.7 Z" fill="#777"/><text x="946.3" y="75.6" class="yl">149.00</text><path d="M938 91.8 L940.5 93.8 L938 95.8 Z" fill="#777"/><text x="946.3" y="100.7" class="yl">130.00</text><path d="M938 131.2 L940.5 133.2 L938 135.2 Z" fill="#777"/><text x="946.3" y="140.1" class="yl">105.00</text><path d="M938 181.3 L940.5 183.3 L938 185.3 Z" fill="#777"/><text x="946.3" y="190.2" class="yl">80.00</text><path d="M938 250.3 L940.5 252.3 L938 254.3 Z" fill="#777"/><text x="946.3" y="259.2" class="yl">55.00</text><path d="M938 287.2 L940.5 289.2 L938 291.2 Z" fill="#777"/><text x="946.3" y="296.1" class="yl">45.00</text><path d="M938 333.5 L940.5 335.5 L938 337.5 Z" fill="#777"/><text x="946.3" y="342.4" class="yl">35.00</text><path d="M938 395.5 L940.5 397.5 L938 399.5 Z" fill="#777"/><text x="946.3" y="404.4" class="yl">25.00</text><path d="M938 466.6 L940.5 468.6 L938 470.6 Z" fill="#777"/><text x="946.3" y="475.5" class="yl">17.00</text></g>
<path d="M937.2 392.1 L935 393.9 L937.2 395.7 Z" fill="#888"/><path d="M937.2 410.7 L935 412.5 L937.2 414.3 Z" fill="#888"/><path d="M937.2 429.3 L935 431.1 L937.2 432.9 Z" fill="#888"/><path d="M937.2 447.9 L935 449.7 L937.2 451.5 Z" fill="#888"/><path d="M937.2 466.5 L935 468.3 L937.2 470.1 Z" fill="#888"/>
<g clip-path="url(#cpx)"><text x="35.8" y="495" class="xl b">Jan 2023</text><text x="187.3" y="495" class="xl">Jul 2023</text><text x="339.5" y="495" class="xl b">Jan 2024</text><text x="490.5" y="495" class="xl">Jul 2024</text><text x="645.2" y="495" class="xl b">Jan 2025</text><text x="795.2" y="495" class="xl">Jul 2025</text></g>

<rect x="938" y="352.3" width="79" height="47.6" fill="#46b9dc"/>
<g font-family="Liberation Sans, sans-serif" font-weight="bold" font-size="22.2" fill="#fff">
<text x="947.5" y="372.6">QDEL</text>
<text x="948.5" y="394.6">28.14</text>
</g>
<polyline points="950,521.1 941.2,512 949.5,503.3 952.6,506.4 947.6,512 952.7,518 955.6,514.7 953.2,512 956.2,509" fill="none" stroke="#2f3538" stroke-width="2.1" stroke-linejoin="miter"/>
<text x="961" y="516.8" font-family="Liberation Sans, sans-serif" font-size="18.4" letter-spacing="0.55" fill="#2f3538" stroke="#2f3538" stroke-width="0.25">koyfin</text>
<rect x="15.5" y="69.5" width="320.5" height="22" rx="4" fill="#fff" fill-opacity="0.9" stroke="#eeeeee" stroke-width="1"/>
<rect x="15.2" y="69.7" width="3.6" height="21.6" rx="1.8" fill="#3fb5d8"/>
<g font-family="Liberation Sans, sans-serif" font-weight="bold" font-size="11" fill="#32393e">
<text x="24" y="84.4">QDEL</text>
<text x="61" y="84.4">QuidelOrtho Corporation</text>
<text x="199.6" y="84.4">28.14</text>
<text x="231" y="84.4" font-weight="normal" font-size="7.5" fill="#565c61">USD</text>
<text x="253.6" y="84.4" fill="#1d7a3a">+3.79</text>
<text x="287.6" y="84.4" fill="#1d7a3a">+15.54<tspan font-size="7.8">%</tspan></text>
</g>
</svg>
</body></html>
